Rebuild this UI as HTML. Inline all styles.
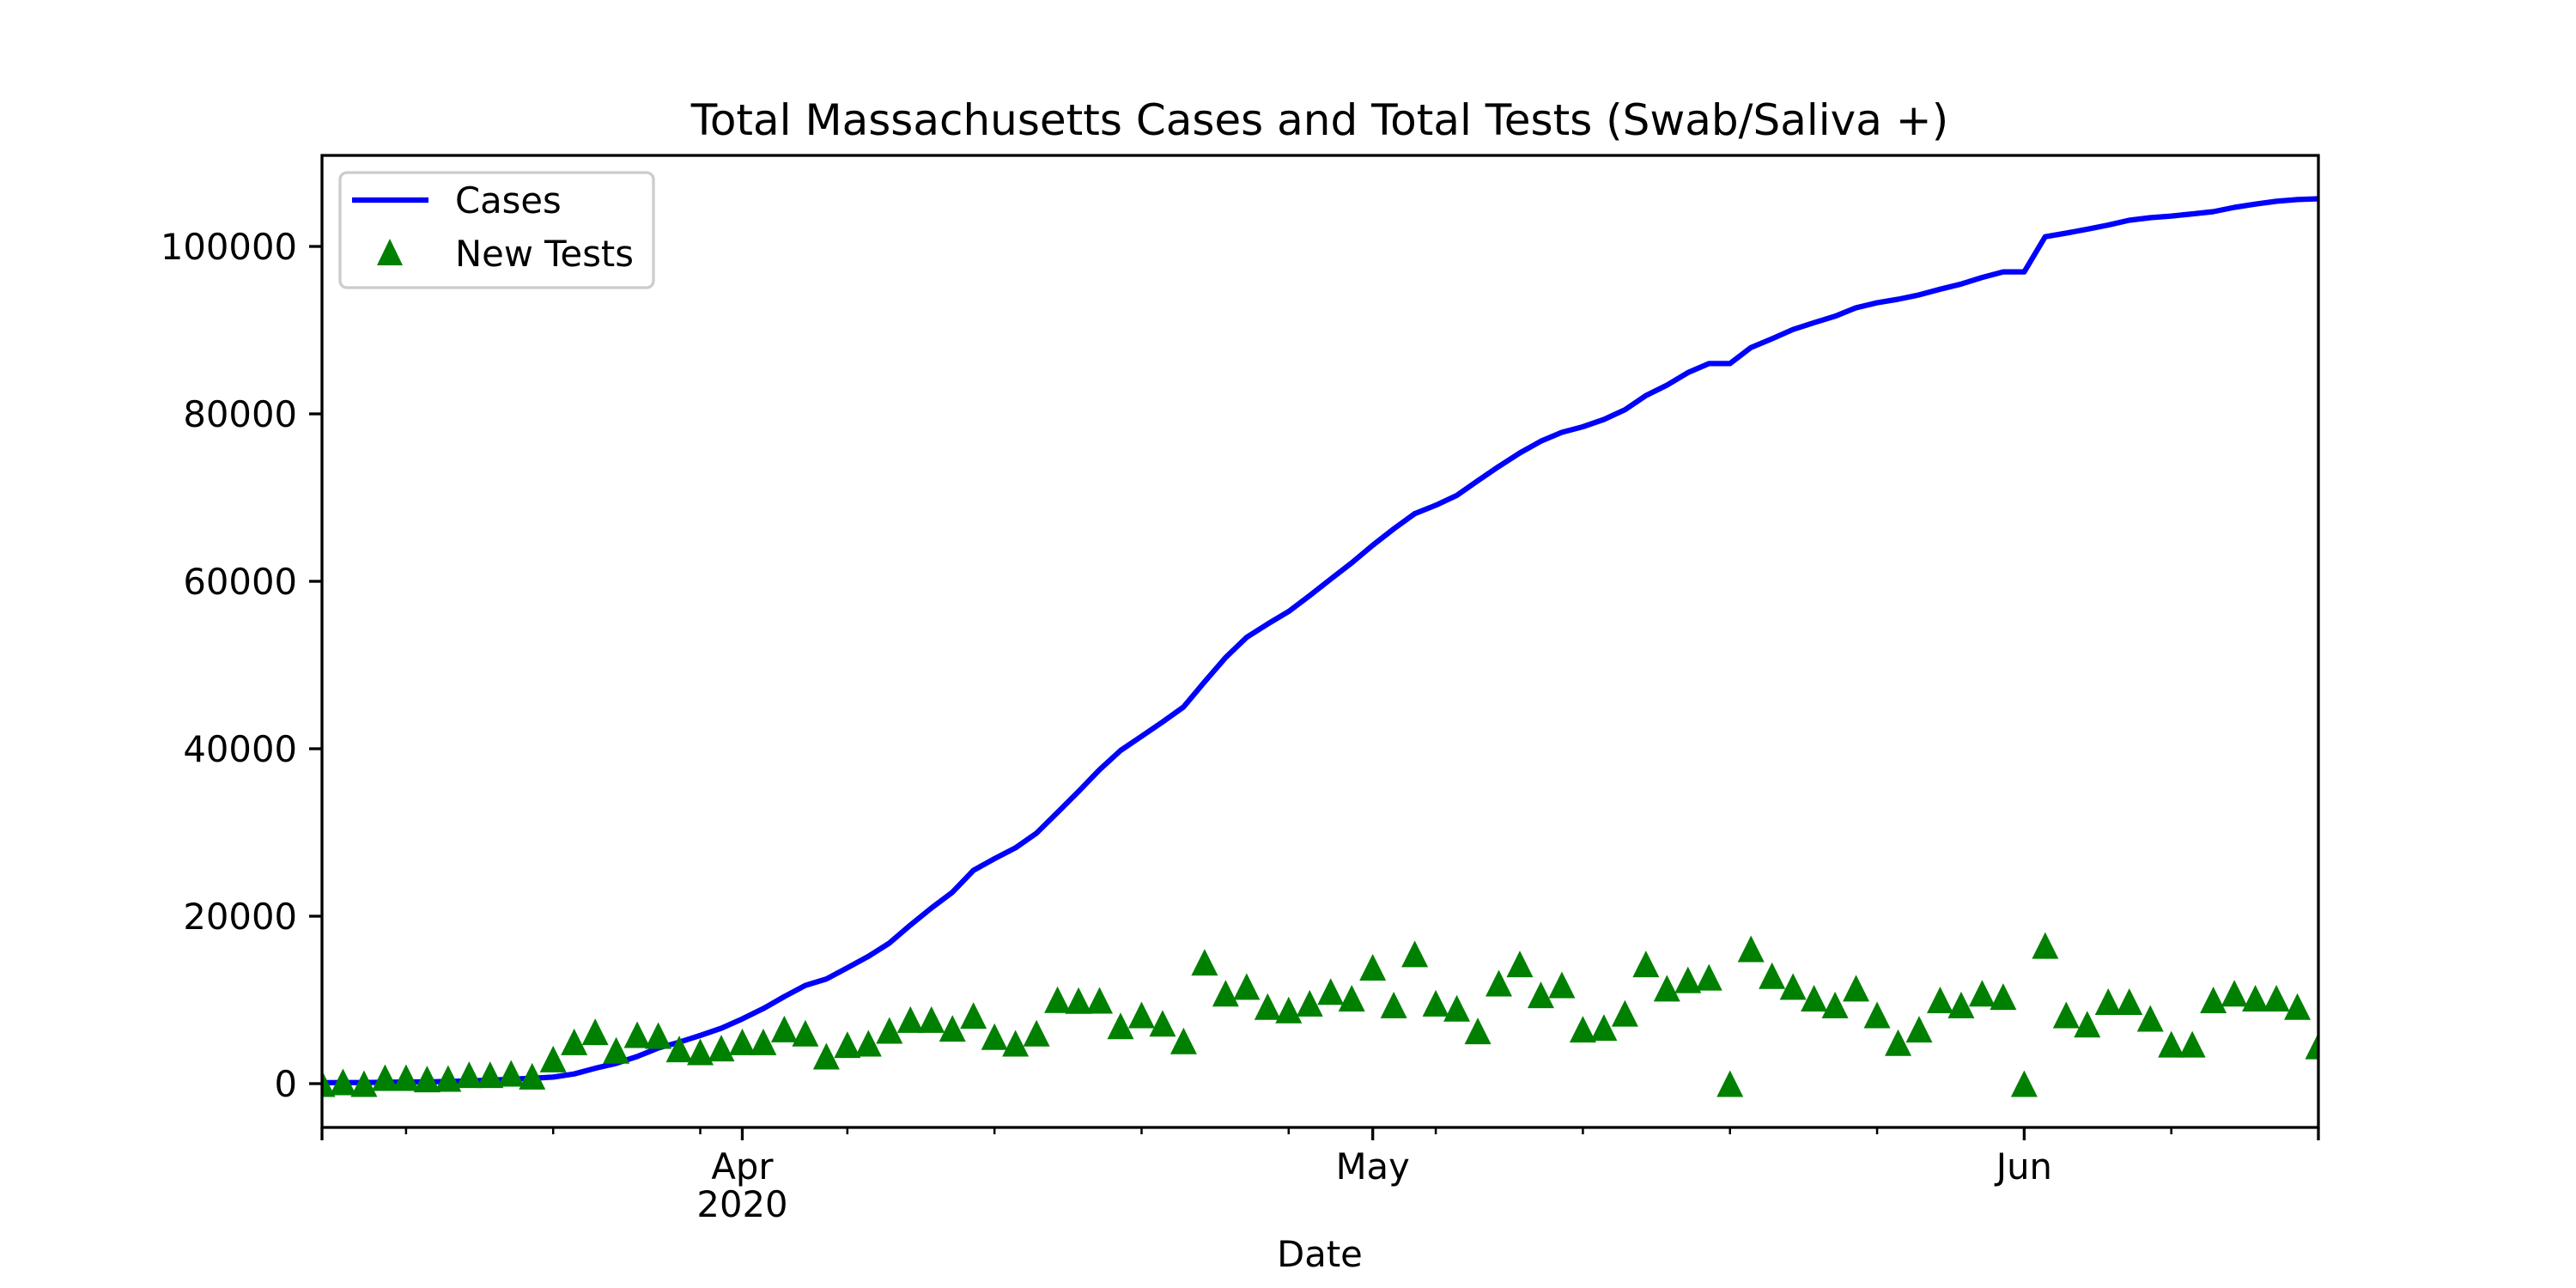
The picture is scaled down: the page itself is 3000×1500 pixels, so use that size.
<!DOCTYPE html>
<html><head><meta charset="utf-8">
<style>
html,body{margin:0;padding:0;background:#fff;}
svg{display:block;}
text{font-family:"DejaVu Sans","Liberation Sans",sans-serif;fill:#000;}
</style></head>
<body>
<svg id="chart" width="3000" height="1500" viewBox="0 0 3000 1500" xmlns="http://www.w3.org/2000/svg">
<rect x="0" y="0" width="3000" height="1500" fill="#fff"/>
<defs><clipPath id="plotclip"><rect x="375" y="181" width="2325" height="1132"/></clipPath></defs>
<text x="1537" y="157" font-size="50" text-anchor="middle">Total Massachusetts Cases and Total Tests (Swab/Saliva +)</text>
<g id="marks" clip-path="url(#plotclip)"></g>
<g id="axes"></g>
<text x="1537" y="1475" font-size="41.7" text-anchor="middle">Date</text>
<g>
<rect x="396" y="201" width="365" height="134" rx="8" fill="#fff" fill-opacity="0.8" stroke="#cccccc" stroke-width="3.3"/>
<line x1="410" y1="233" x2="499" y2="233" stroke="#0000ff" stroke-width="6.25"/>
<text x="530" y="248" font-size="41.7">Cases</text>
<polygon points="454,278 439,309 469,309" fill="#008000"/>
<text x="530" y="310" font-size="41.7">New Tests</text>
</g>
</svg>
<script>
// Days since Mar 12, 2020
var cases = [108,123,138,164,197,218,256,328,413,525,646,777,1159,1838,2417,3240,4257,4955,5752,6620,
7738,8966,10402,11736,12500,13837,15202,16790,18941,20974,22860,25475,26867,28163,29918,32400,34900,37500,39800,41500,
43200,45000,48000,50900,53300,54900,56400,58302,60265,62205,64311,66263,68087,69087,70271,72025,73721,75333,76743,77793,
78462,79332,80497,82182,83421,84933,86010,86010,87925,88970,90084,90889,91662,92675,93271,93693,94220,94895,95512,96301,
96965,96965,101163,101592,102063,102557,103132,103436,103626,103889,104156,104667,105059,105395,105603,105690];
var newTests = [0,200,0,720,720,550,620,1060,1060,1230,890,2940,4990,6190,3970,5850,5740,4140,3800,4240,
4990,4990,6530,6020,3280,4650,4820,6360,7660,7660,6600,8140,5610,4820,6020,10020,9920,9950,6900,8200,
7200,5100,14500,10800,11600,9200,8800,9600,11000,10200,13900,9400,15500,9600,9000,6300,12000,14300,10600,11800,
6500,6700,8400,14300,11400,12400,12700,0,16100,12900,11600,10200,9400,11400,8200,4900,6500,10000,9400,10800,
10400,0,16500,8200,7100,9800,9800,7800,4700,4700,10000,10800,10200,10200,9200,4500];
var yTicks = [0,20000,40000,60000,80000,100000];
var yTickLabels = ["0","20000","40000","60000","80000","100000"];
var xMajorDays = [20,50,81];
var xMajorLabels = ["Apr","May","Jun"];
var xMinorDays = [4,11,18,25,32,39,46,53,60,67,74,88,95];

var NS="http://www.w3.org/2000/svg";
var L=375,R=2700,T=181,B=1313,DAYS=95;
function X(d){return L+d*(R-L)/DAYS;}
function Y(v){return 1262-v*0.00975;}
function mk(tag,attrs,parent){var e=document.createElementNS(NS,tag);for(var k in attrs)e.setAttribute(k,attrs[k]);parent.appendChild(e);return e;}
var marks=document.getElementById('marks'), axes=document.getElementById('axes');

var pts=cases.map(function(v,i){return X(i).toFixed(1)+','+Y(v).toFixed(1);}).join(' ');
var line=mk('polyline',{points:pts,fill:'none',stroke:'#0000ff','stroke-width':6.25,'stroke-linejoin':'round'},marks);



newTests.forEach(function(v,i){
  var cx=X(i),cy=Y(v),h=15.5;
  var p=mk('polygon',{points:cx+','+(cy-h)+' '+(cx-h)+','+(cy+h)+' '+(cx+h)+','+(cy+h),fill:'#008000'},marks);
  
  
});

var frame=mk('rect',{x:L,y:T,width:R-L,height:B-T,fill:'none',stroke:'#000','stroke-width':3.3},axes);



yTicks.forEach(function(v,i){
  var y=Y(v);
  var t=mk('line',{x1:L-15,y1:y,x2:L,y2:y,stroke:'#000','stroke-width':3.3},axes);
  
  
  var tx=mk('text',{x:L-29,y:y+15,'font-size':41.7,'text-anchor':'end'},axes);
  tx.textContent=yTickLabels[i];
  
  
});
xMajorDays.forEach(function(d,i){
  var x=X(d);
  var t=mk('line',{x1:x,y1:B,x2:x,y2:B+15,stroke:'#000','stroke-width':3.3},axes);
  
  
  var tx=mk('text',{x:x,y:1373,'font-size':41.7,'text-anchor':'middle'},axes);
  tx.textContent=xMajorLabels[i];
  
  
});
var yr=mk('text',{x:X(20),y:1417,'font-size':41.7,'text-anchor':'middle'},axes);
yr.textContent='2020';


[0,DAYS].forEach(function(d){
  var t=mk('line',{x1:X(d),y1:B,x2:X(d),y2:B+15,stroke:'#000','stroke-width':3.3},axes);
  
  
});
xMinorDays.forEach(function(d){
  var t=mk('line',{x1:X(d),y1:B,x2:X(d),y2:B+8,stroke:'#000','stroke-width':2.5},axes);
  
  
});
</script>
</body></html>
